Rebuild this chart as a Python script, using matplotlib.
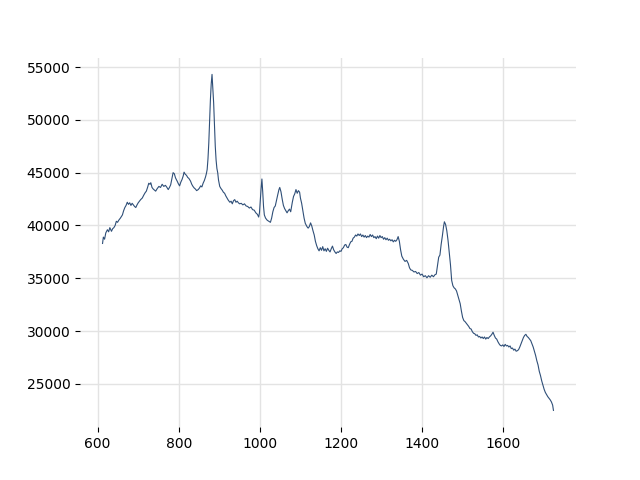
import matplotlib
matplotlib.use("Agg")
import matplotlib.pyplot as plt

# Raman shift (cm-1) and intensity
shift = [612, 614, 617, 620, 624, 627, 630, 634, 637, 640, 643, 646, 649, 652, 656,
         661, 664, 667, 670, 673, 676, 679, 682, 685, 688, 691, 694, 697, 700, 703,
         706, 710, 714, 717, 720, 723, 726, 729, 731, 734, 737, 740, 743, 747, 751,
         755, 759, 763, 767, 770, 774, 777, 780, 783, 786, 789, 792, 796, 799, 802,
         805, 808, 811, 813, 816, 819, 822, 825, 829, 832, 835, 838, 841, 844, 848,
         851, 854, 857, 860, 863, 866, 868, 870, 872, 874, 876, 878, 880, 882, 884,
         886, 888, 890, 892, 894, 896, 898, 901, 904, 907, 910, 913, 916, 919, 922,
         926, 929, 932, 935, 938, 941, 944, 947, 950, 954, 958, 962, 966, 970, 974,
         978, 982, 986, 990, 994, 997, 999, 1001, 1003, 1005, 1007, 1009, 1011, 1014, 1018,
         1022, 1026, 1029, 1032, 1035, 1038, 1041, 1044, 1047, 1049, 1052, 1055, 1058, 1061, 1064,
         1067, 1070, 1073, 1076, 1080, 1083, 1086, 1089, 1092, 1095, 1098, 1100, 1103, 1106, 1109,
         1112, 1116, 1119, 1122, 1125, 1128, 1131, 1134, 1137, 1140, 1143, 1146, 1149, 1152, 1155,
         1158, 1161, 1164, 1167, 1170, 1173, 1176, 1179, 1182, 1185, 1188, 1191, 1194, 1197, 1200,
         1203, 1206, 1209, 1212, 1215, 1218, 1221, 1224, 1227, 1230, 1233, 1236, 1239, 1242, 1245,
         1248, 1251, 1254, 1257, 1260, 1263, 1266, 1269, 1272, 1275, 1278, 1281, 1284, 1287, 1290,
         1293, 1296, 1299, 1302, 1305, 1308, 1311, 1314, 1317, 1320, 1323, 1326, 1329, 1332, 1335,
         1338, 1341, 1344, 1347, 1350, 1354, 1358, 1362, 1366, 1369, 1372, 1376, 1380, 1384, 1388,
         1392, 1396, 1400, 1404, 1408, 1412, 1416, 1420, 1424, 1428, 1432, 1435, 1438, 1441, 1444,
         1447, 1450, 1453, 1455, 1458, 1461, 1464, 1467, 1470, 1473, 1476, 1479, 1482, 1485, 1488,
         1491, 1494, 1497, 1500, 1503, 1506, 1509, 1512, 1515, 1518, 1521, 1524, 1527, 1530, 1533,
         1536, 1539, 1542, 1545, 1548, 1551, 1554, 1557, 1560, 1563, 1566, 1569, 1572, 1575, 1578,
         1581, 1584, 1587, 1590, 1593, 1596, 1599, 1602, 1605, 1608, 1611, 1614, 1617, 1620, 1623,
         1626, 1629, 1632, 1635, 1638, 1641, 1644, 1647, 1650, 1653, 1656, 1659, 1662, 1665, 1668,
         1671, 1674, 1677, 1680, 1683, 1686, 1689, 1692, 1695, 1698, 1701, 1704, 1707, 1710, 1713,
         1716, 1719, 1722, 1724]

intensity = [38300, 38900, 38700, 39300, 39600, 39400, 39800, 39450, 39700, 39800, 40000, 40400, 40300, 40500, 40700,
             41000, 41400, 41700, 41900, 42200, 42000, 42150, 41900, 42100, 41950, 41800, 41700, 41950, 42150, 42300,
             42450, 42600, 42900, 43100, 43250, 43600, 44000, 43900, 44050, 43600, 43450, 43350, 43250, 43500, 43700,
             43600, 43900, 43700, 43800, 43650, 43400, 43600, 43850, 44400, 45000, 44900, 44500, 44200, 43950, 43750,
             44100, 44350, 44700, 45050, 44850, 44750, 44550, 44450, 44200, 43900, 43700, 43550, 43450, 43300, 43400,
             43550, 43750, 43650, 44000, 44250, 44600, 44900, 45300, 46300, 47800, 50000, 51900, 53400, 54300, 53000,
             51600, 49500, 47500, 46200, 45400, 45000, 44300, 43700, 43500, 43350, 43150, 43050, 42800, 42600, 42400,
             42200, 42300, 42050, 42350, 42450, 42200, 42300, 42150, 42050, 42100, 41950, 42050, 41850, 41800, 41650,
             41750, 41500, 41450, 41200, 41050, 40800, 41200, 42400, 43500, 44400, 43200, 41800, 41000, 40700, 40500,
             40400, 40300, 40700, 41300, 41700, 41850, 42400, 42900, 43400, 43600, 43200, 42500, 41900, 41600, 41400,
             41200, 41400, 41550, 41300, 42200, 42750, 43000, 43400, 43050, 43300, 43150, 42600, 42100, 41400, 40700,
             40200, 39900, 39750, 39900, 40250, 39950, 39500, 39100, 38500, 38100, 37800, 37600, 37900, 37650, 38000,
             37600, 37800, 37550, 37850, 37650, 37500, 37800, 38050, 37700, 37500, 37350, 37500, 37450, 37600, 37550,
             37800, 37900, 38150, 38200, 37950, 37900, 38200, 38450, 38500, 38800, 38900, 39100, 39000, 39200, 39050,
             39200, 38950, 39100, 38900, 39050, 38850, 39000, 38900, 39150, 38950, 39100, 38850, 38950, 38750, 39000,
             38800, 39050, 38850, 38950, 38700, 38850, 38650, 38800, 38600, 38700, 38550, 38650, 38450, 38600, 38500,
             38650, 38950, 38500, 37700, 37100, 36800, 36600, 36700, 36400, 36000, 35800, 35750, 35600, 35650, 35450,
             35550, 35300, 35400, 35150, 35250, 35050, 35250, 35100, 35300, 35150, 35350, 35400, 36200, 37000, 37200,
             38200, 39000, 39900, 40350, 40100, 39500, 38600, 37500, 36300, 34800, 34300, 34100, 34000, 33800, 33400,
             33000, 32600, 31900, 31300, 31000, 30900, 30750, 30600, 30450, 30250, 30200, 29950, 29800, 29750, 29600,
             29650, 29450, 29500, 29350, 29450, 29300, 29450, 29250, 29400, 29300, 29450, 29550, 29700, 29900, 29600,
             29350, 29250, 29000, 28800, 28650, 28600, 28700, 28550, 28750, 28600, 28650, 28500, 28600, 28350, 28400,
             28200, 28300, 28100, 28150, 28250, 28500, 28800, 29100, 29400, 29600, 29700, 29500, 29400, 29250, 29100,
             28800, 28500, 28100, 27700, 27200, 26800, 26200, 25800, 25300, 24900, 24500, 24200, 24000, 23800, 23650,
             23500, 23300, 23000, 22500]

fig, ax = plt.subplots(figsize=(6.4, 4.8), dpi=100)

ax.plot(shift, intensity, color="#2f4f78", linewidth=0.8)

# light grid, no frame
ax.grid(True, color="#e3e3e3", linewidth=1.0)
ax.set_axisbelow(True)
for side in ["top", "right", "bottom", "left"]:
    ax.spines[side].set_visible(False)

fig.savefig("out.png", dpi=100)
